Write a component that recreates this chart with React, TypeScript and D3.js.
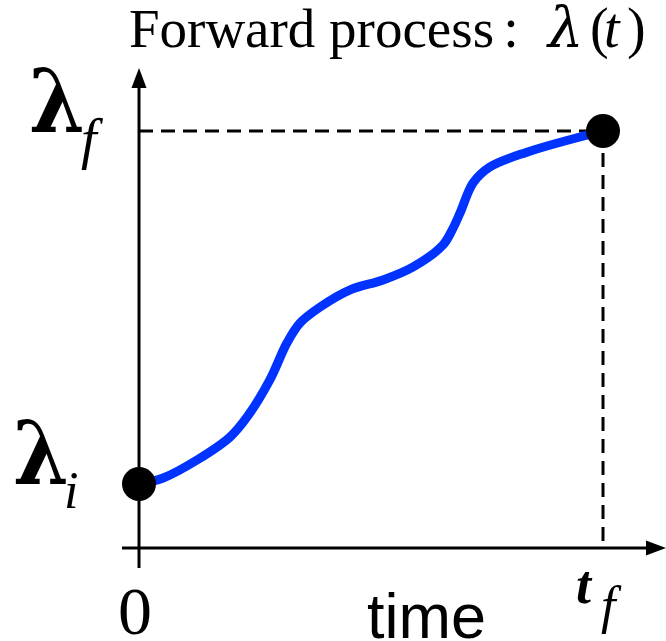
import React from "react";
import * as d3 from "d3";

const timeValues = [0, 0.052, 0.125, 0.196, 0.233, 0.282, 0.319, 0.347, 0.39, 0.455, 0.526, 0.591, 0.655, 0.675, 0.692, 0.72, 0.756, 0.836, 1];
const lambdaValues = [0, 0.017, 0.068, 0.133, 0.19, 0.295, 0.4, 0.456, 0.501, 0.55, 0.578, 0.615, 0.677, 0.72, 0.768, 0.853, 0.898, 0.94, 1];
const endpointTimes = [0, 1];
const endpointLambdas = [0, 1];

export default function App() {
  const W = 666, H = 641;
  const x = d3.scaleLinear().domain([0, 1]).range([139, 603]);
  const y = d3.scaleLinear().domain([0, 1]).range([484, 131]);
  const pts: [number, number][] = timeValues.map((t, i) => [t, lambdaValues[i]]);
  const line = d3.line<[number, number]>()
    .x(d => x(d[0]))
    .y(d => y(d[1]))
    .curve(d3.curveCatmullRom.alpha(0.5));
  const axisY = 548;
  const x0 = x(0);
  const serif = "'Liberation Serif', 'Times New Roman', serif";
  const greek = "'DejaVu Serif', serif";
  return (
    <svg width={W} height={H} style={{ position: "absolute", left: 0, top: 0, background: "#fff" }}>
      {/* dashed guides */}
      <line x1={x0} x2={x(1)} y1={y(1)} y2={y(1)} stroke="#000" strokeWidth={3} strokeDasharray="14,8" />
      <line x1={x(1)} x2={x(1)} y1={y(1)} y2={axisY} stroke="#000" strokeWidth={3} strokeDasharray="14,8" />
      {/* axes */}
      <line x1={x0} x2={x0} y1={568} y2={84} stroke="#000" strokeWidth={3} />
      <path d={`M${x0},68 L${x0 - 7.5},88 L${x0 + 7.5},88 Z`} fill="#000" />
      <line x1={122} x2={650} y1={axisY} y2={axisY} stroke="#000" strokeWidth={3} />
      <path d={`M666,${axisY} L646,${axisY - 7.5} L646,${axisY + 7.5} Z`} fill="#000" />
      {/* curve */}
      <path d={line(pts) || ""} fill="none" stroke="#0033ff" strokeWidth={9} strokeLinecap="round" />
      {endpointTimes.map((t, i) => (
        <circle key={i} cx={x(t)} cy={y(endpointLambdas[i])} r={17} fill="#000" />
      ))}
      {/* title */}
      <text x={129} y={47} fontFamily={serif} fontSize={55} fill="#000">Forward process</text>
      <text x={511} y={47} fontFamily={serif} fontSize={56} textAnchor="middle" fill="#000">:</text>
      <text x={548} y={47} fontFamily={greek} fontSize={56} fontStyle="italic" fill="#000">λ</text>
      <text x={590} y={47} fontFamily={serif} fontSize={56} fill="#000">(</text>
      <text x={604} y={47} fontFamily={serif} fontSize={56} fontStyle="italic" fill="#000">t</text>
      <text x={627} y={47} fontFamily={serif} fontSize={56} fill="#000">)</text>
      {/* lambda labels */}
      <text transform="translate(29,132) scale(1,1.1)" fontFamily={greek} fontSize={80} fontWeight="bold" fill="#000">λ</text>
      <text x={81} y={158} fontFamily={serif} fontSize={56} fontStyle="italic" fill="#000">f</text>
      <text transform="translate(13,484) scale(1,1.1)" fontFamily={greek} fontSize={80} fontWeight="bold" fill="#000">λ</text>
      <text x={64} y={508} fontFamily={serif} fontSize={52} fontStyle="italic" fill="#000">i</text>
      {/* x labels */}
      <text x={x0 - 4} y={634} fontFamily={serif} fontSize={68} textAnchor="middle" fill="#000">0</text>
      <text x={367} y={638} fontFamily="'Liberation Sans', Arial, sans-serif" fontSize={63} fill="#000">time</text>
      <text x={576} y={603} fontFamily={serif} fontSize={54} fontStyle="italic" fontWeight="bold" fill="#000">t</text>
      <text x={601} y={623} fontFamily={serif} fontSize={52} fontStyle="italic" fill="#000">f</text>
    </svg>
  );
}
